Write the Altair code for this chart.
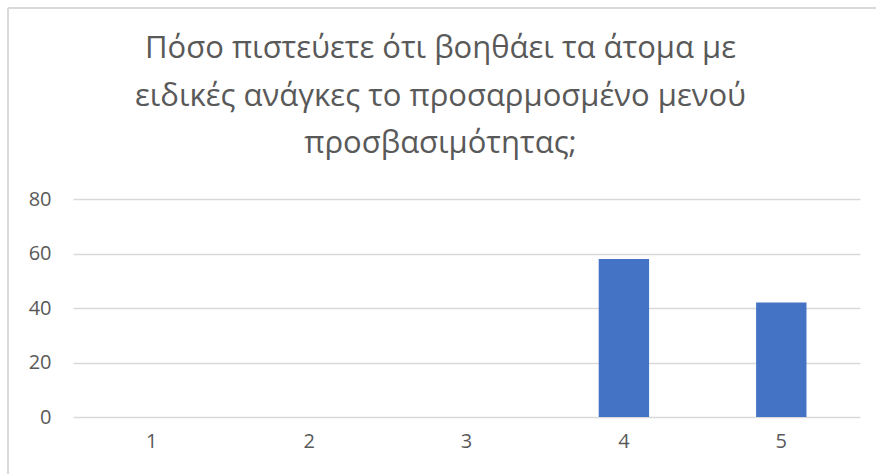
import altair as alt
import pandas as pd

categories = ["1", "2", "3", "4", "5"]
values = [0, 0, 0, 58, 42]
y_ticks = [0, 20, 40, 60, 80]
title_lines = [
    "Πόσο πιστεύετε ότι βοηθάει τα άτομα με",
    "ειδικές ανάγκες το προσαρμοσμένο μενού",
    "προσβασιμότητας;",
]

df = pd.DataFrame({"cat": categories, "val": values})

FONT = "Open Sans"
GREY = "#595959"

bars = alt.Chart(df).mark_bar(color="#4472c4").encode(
    x=alt.X(
        "cat:N",
        sort=categories,
        scale=alt.Scale(paddingInner=0.68, paddingOuter=0.34),
        axis=alt.Axis(
            title=None, labelAngle=0, ticks=False, domain=False,
            labelFont=FONT, labelFontSize=20, labelColor=GREY, labelPadding=14,
        ),
    ),
    y=alt.Y(
        "val:Q",
        scale=alt.Scale(domain=[0, 80], nice=False),
        axis=alt.Axis(
            title=None, values=y_ticks, ticks=False, domain=False,
            labelFont=FONT, labelFontSize=20, labelColor=GREY, labelPadding=22,
            gridColor="#d9d9d9", gridWidth=1.3,
        ),
    ),
)

border = alt.Chart(df).mark_rule(color="#d9d9d9", strokeWidth=1.3).encode(
    x=alt.value(-65), x2=alt.value(-65), y=alt.value(-191), y2=alt.value(300)
)
border_top = alt.Chart(df).mark_rule(color="#d9d9d9", strokeWidth=1.3).encode(
    x=alt.value(-65), x2=alt.value(820), y=alt.value(-191), y2=alt.value(-191)
)

chart = alt.layer(border, border_top, bars).properties(
    width=787,
    height=218,
    title=alt.TitleParams(
        text=title_lines, font=FONT, fontSize=31, fontWeight="normal",
        color=GREY, lineHeight=47.5, anchor="middle", baseline="top",
        offset=-34, dx=-26, dy=119,
    ),
    autosize=alt.AutoSizeParams(type="none"),
    padding={"left": 73, "top": 199, "right": 16, "bottom": 57},
).configure(
    background="white",
    view=alt.ViewConfig(stroke="transparent", strokeWidth=0),
)

chart.save("out.html", embed_options={"renderer": "svg", "actions": False})
